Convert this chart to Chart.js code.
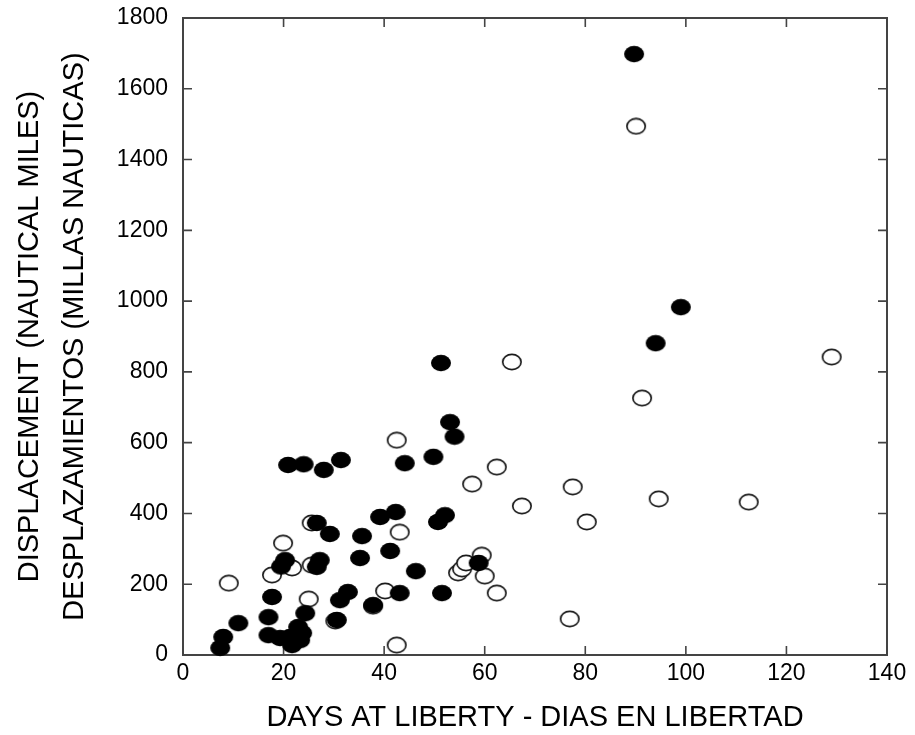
<!DOCTYPE html>
<html>
<head>
<meta charset="utf-8">
<script src="https://cdn.jsdelivr.net/npm/chart.js@4/dist/chart.umd.min.js"></script>
<style>
  html, body { margin: 0; padding: 0; background: #fff; }
  #tagChart { display: block; }
</style>
</head>
<body>
<canvas id="tagChart" width="915" height="735"></canvas>
<script>
/* ---------- DATA (days at liberty, displacement) ---------- */
const filledDays = [7.4, 8, 11, 17, 17, 17.7, 19.3, 21.3, 21.7, 22.9, 23.3, 23.7, 24.3,
  19.5, 20.3, 20.9, 24, 28, 31.4, 26.6, 29.2, 27.2, 26.6, 30.6, 31.2, 32.8,
  35.6, 35.2, 39.2, 42.3, 41.2, 37.8, 43.1, 44.1, 46.3, 49.8, 50.7, 52.1,
  51.3, 53.1, 54, 51.5, 58.8, 89.7, 94, 99];
const filledMiles = [20, 51, 90, 56, 107, 164, 48, 51, 28, 79, 42, 62, 118,
  250, 268, 537, 539, 523, 551, 373, 342, 268, 249, 99, 155, 178,
  336, 274, 390, 404, 294, 141, 175, 542, 237, 560, 376, 395,
  825, 658, 617, 175, 260, 1698, 881, 983];

const openDays = [9.1, 19.9, 21.7, 17.7, 25, 25.6, 25.6, 30.3, 37.8, 40.2, 42.5, 42.5, 43.1,
  54.7, 55.5, 56.3, 59.4, 60, 62.4, 57.5, 62.4, 65.4, 67.4, 76.9, 77.5, 80.3,
  90.1, 91.3, 94.6, 112.5, 129];
const openMiles = [203, 316, 246, 226, 158, 373, 254, 96, 138, 181, 28, 607, 347,
  232, 243, 260, 282, 223, 175, 483, 531, 828, 421, 102, 475, 376,
  1494, 726, 441, 432, 842];

const xTicks = [0, 20, 40, 60, 80, 100, 120, 140];
const yTicks = [0, 200, 400, 600, 800, 1000, 1200, 1400, 1600, 1800];

const xTitle = "DAYS AT LIBERTY - DIAS EN LIBERTAD";
const yTitle = ["DISPLACEMENT (NAUTICAL MILES)", "DESPLAZAMIENTOS (MILLAS NAUTICAS)"];

/* ---------- MARKERS (slightly wide ellipses) ---------- */
function ellipseMarker(filled) {
  const c = document.createElement("canvas");
  c.width = 22;
  c.height = 18;
  const g = c.getContext("2d");
  g.beginPath();
  if (filled) {
    g.ellipse(11, 9, 10, 8.3, 0, 0, Math.PI * 2);
    g.fillStyle = "#000";
    g.fill();
  } else {
    g.ellipse(11, 9, 9.2, 7.6, 0, 0, Math.PI * 2);
    g.fillStyle = "#fff";
    g.fill();
    g.lineWidth = 1.7;
    g.strokeStyle = "#1a1a1a";
    g.stroke();
  }
  return c;
}

function toPoints(xs, ys) {
  return xs.map((x, i) => ({ x: x, y: ys[i] }));
}

/* ---------- FRAME + INWARD TICKS ON ALL SIDES ---------- */
const framePlugin = {
  id: "frame",
  beforeDatasetsDraw(chart) {
    const { ctx, chartArea: a, scales } = chart;
    ctx.save();
    ctx.strokeStyle = "#444";
    ctx.lineWidth = 2;
    ctx.strokeRect(a.left, a.top, a.right - a.left, a.bottom - a.top);
    ctx.lineWidth = 1.6;
    ctx.beginPath();
    xTicks.forEach(v => {
      const px = scales.x.getPixelForValue(v);
      ctx.moveTo(px, a.bottom); ctx.lineTo(px, a.bottom - 9);
      ctx.moveTo(px, a.top); ctx.lineTo(px, a.top + 9);
    });
    yTicks.forEach(v => {
      const py = scales.y.getPixelForValue(v);
      ctx.moveTo(a.left, py); ctx.lineTo(a.left + 9, py);
      ctx.moveTo(a.right, py); ctx.lineTo(a.right - 9, py);
    });
    ctx.stroke();
    ctx.restore();
  }
};

const sans = "'Liberation Sans', Arial, sans-serif";

document.addEventListener("DOMContentLoaded", function () {
  const ctx = document.getElementById("tagChart").getContext("2d");

  new Chart(ctx, {
    type: "scatter",
    data: {
      datasets: [{
        label: "filled",
        data: toPoints(filledDays, filledMiles),
        pointStyle: ellipseMarker(true),
        clip: false
      }, {
        label: "open",
        data: toPoints(openDays, openMiles),
        pointStyle: ellipseMarker(false),
        clip: false
      }]
    },
    options: {
      responsive: false,
      animation: false,
      devicePixelRatio: 1,
      layout: { padding: { top: 18, right: 28, left: 0, bottom: 0 } },
      plugins: {
        legend: { display: false },
        tooltip: { enabled: false }
      },
      scales: {
        x: {
          type: "linear",
          min: 0,
          max: 140,
          afterBuildTicks(scale) { scale.ticks = xTicks.map(v => ({ value: v })); },
          afterFit(scale) {
            scale.height = 80;
            scale.paddingLeft = 0;
            scale.paddingRight = 0;
          },
          grid: { display: false, drawTicks: false },
          border: { display: false },
          ticks: { color: "#000", padding: 5, maxRotation: 0, callback: v => String(v), font: { family: sans, size: 23 } },
          title: {
            display: true,
            text: xTitle,
            color: "#000",
            font: { family: sans, size: 29, lineHeight: 1.2 },
            padding: { top: 0, bottom: 0 }
          }
        },
        y: {
          type: "linear",
          min: 0,
          max: 1800,
          afterBuildTicks(scale) { scale.ticks = yTicks.map(v => ({ value: v })); },
          afterFit(scale) {
            scale.width = 183;
            scale.paddingTop = 0;
            scale.paddingBottom = 0;
          },
          grid: { display: false, drawTicks: false },
          border: { display: false },
          ticks: { color: "#000", padding: 15, callback: v => String(v), font: { family: sans, size: 23 } },
          title: {
            display: true,
            text: yTitle,
            color: "#000",
            font: { family: sans, size: 29, lineHeight: 1.55 },
            padding: { top: 8, bottom: 0 }
          }
        }
      }
    },
    plugins: [framePlugin]
  });
});
</script>
</body>
</html>
